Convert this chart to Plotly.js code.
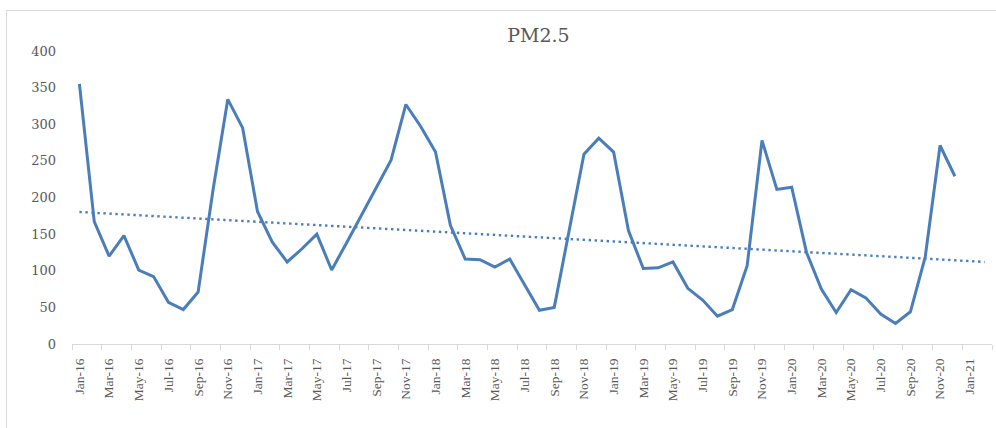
<!DOCTYPE html>
<html>
<head>
<meta charset="utf-8">
<script src="https://cdn.plot.ly/plotly-3.0.1.min.js"></script>
<style>
  html, body { margin: 0; padding: 0; background: #ffffff; }
  #wrap { position: relative; width: 996px; height: 428px; overflow: hidden; }
  #frame { position: absolute; left: 6px; top: 10px; width: 1200px; height: 600px;
           border-left: 1px solid #d9d9d9; border-top: 1px solid #d9d9d9; box-sizing: border-box; }
  #chart { position: absolute; left: 0; top: 0; width: 996px; height: 428px; }
</style>
</head>
<body>
<div id="wrap">
  <div id="frame"></div>
  <div id="chart"></div>
</div>
<script>
// Monthly PM2.5, Jan-16 .. Dec-20
const months = [
  "Jan-16","Feb-16","Mar-16","Apr-16","May-16","Jun-16","Jul-16","Aug-16","Sep-16","Oct-16","Nov-16","Dec-16",
  "Jan-17","Feb-17","Mar-17","Apr-17","May-17","Jun-17","Jul-17","Aug-17","Sep-17","Oct-17","Nov-17","Dec-17",
  "Jan-18","Feb-18","Mar-18","Apr-18","May-18","Jun-18","Jul-18","Aug-18","Sep-18","Oct-18","Nov-18","Dec-18",
  "Jan-19","Feb-19","Mar-19","Apr-19","May-19","Jun-19","Jul-19","Aug-19","Sep-19","Oct-19","Nov-19","Dec-19",
  "Jan-20","Feb-20","Mar-20","Apr-20","May-20","Jun-20","Jul-20","Aug-20","Sep-20","Oct-20","Nov-20","Dec-20"
];
const pm25 = [
  355, 167, 120, 148, 101, 92, 57, 47, 71, 210, 334, 295,
  181, 139, 112, 130, 150, 101, 138, 176, 213, 251, 327, 297,
  262, 162, 116, 115, 105, 116, 81, 46, 50, 152, 259, 281,
  262, 155, 103, 104, 112, 76, 60, 38, 47, 107, 278, 211,
  214, 125, 75, 43, 74, 63, 41, 28, 44, 119, 271, 229
];
const tickLabels = [
  "Jan-16","Mar-16","May-16","Jul-16","Sep-16","Nov-16",
  "Jan-17","Mar-17","May-17","Jul-17","Sep-17","Nov-17",
  "Jan-18","Mar-18","May-18","Jul-18","Sep-18","Nov-18",
  "Jan-19","Mar-19","May-19","Jul-19","Sep-19","Nov-19",
  "Jan-20","Mar-20","May-20","Jul-20","Sep-20","Nov-20",
  "Jan-21"
];
const forecastPeriods = 2;

// positions = month index
const xs = pm25.map((_, i) => i);
const tickVals = tickLabels.map((_, i) => i * 2);

// least squares linear trend
const n = pm25.length;
const mx = xs.reduce((a, b) => a + b, 0) / n;
const my = pm25.reduce((a, b) => a + b, 0) / n;
let sxy = 0, sxx = 0;
for (let i = 0; i < n; i++) { sxy += (xs[i] - mx) * (pm25[i] - my); sxx += (xs[i] - mx) ** 2; }
const slope = sxy / sxx, intercept = my - slope * mx;
const trendX = [0, n - 1 + forecastPeriods];
const trendY = trendX.map(x => intercept + slope * x);

const blue = '#4a7ebb';
const grey = '#595959';

const traces = [
  { x: xs, y: pm25, text: months, type: 'scatter', mode: 'lines',
    line: { color: blue, width: 3 }, hovertemplate: '%{text}: %{y}<extra></extra>' },
  { x: trendX, y: trendY, type: 'scatter', mode: 'lines',
    line: { color: blue, width: 2.4, dash: '2.4px,3.6px' }, hoverinfo: 'skip' }
];

const layout = {
  width: 996, height: 428,
  paper_bgcolor: 'rgba(0,0,0,0)', plot_bgcolor: 'rgba(0,0,0,0)',
  margin: { l: 72, r: 4, t: 51, b: 84, pad: 0 },
  showlegend: false,
  title: { text: 'PM2.5', x: 505 / 996, xref: 'paper', xanchor: 'center', y: 1 - 35 / 428, yanchor: 'middle',
           font: { family: 'DejaVu Serif', size: 19, color: grey } },
  xaxis: {
    range: [-0.5, n - 0.5 + forecastPeriods], showgrid: false, zeroline: false,
    showline: true, linecolor: '#d9d9d9', linewidth: 1,
    tickmode: 'array', tickvals: tickVals, ticktext: tickLabels, tickangle: -90,
    ticks: '', ticklen: 0,
    minor: { tickmode: 'linear', tick0: -0.5, dtick: 2, ticks: 'outside', ticklen: 5, tickcolor: '#d9d9d9', tickwidth: 1, showgrid: false },
    tickfont: { family: 'Liberation Serif', size: 13.5, color: grey },
    ticklabelstandoff: 8, fixedrange: true
  },
  yaxis: {
    range: [0, 400], dtick: 50, showgrid: false, zeroline: false, showline: false,
    ticks: '', ticklabelstandoff: 15,
    tickfont: { family: 'DejaVu Serif', size: 13, color: grey }, fixedrange: true
  }
};

Plotly.newPlot('chart', traces, layout, { displayModeBar: false, staticPlot: true });
</script>
</body>
</html>
